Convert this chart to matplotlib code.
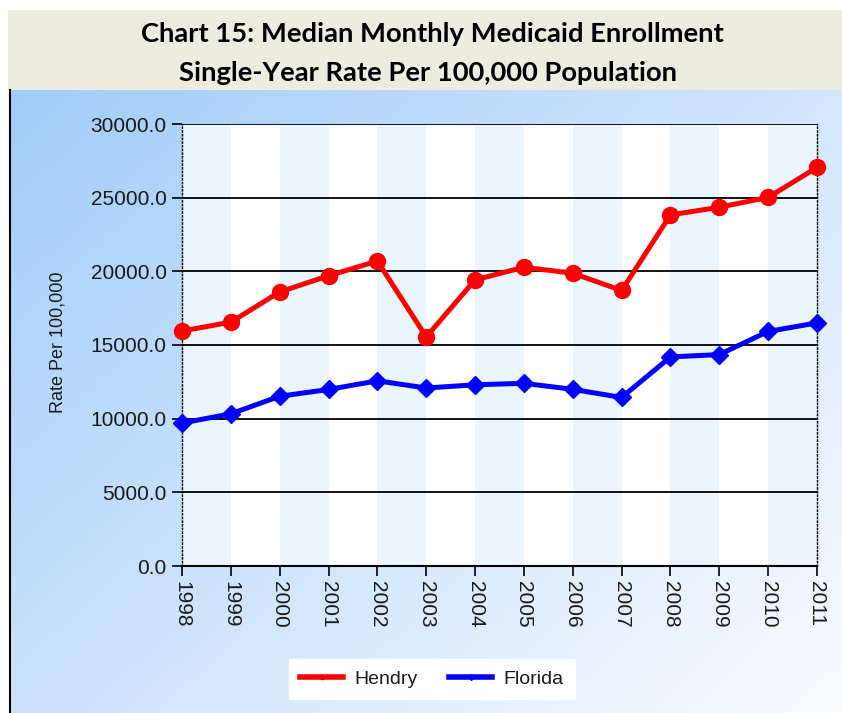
import matplotlib
matplotlib.use("Agg")
import matplotlib.pyplot as plt
from matplotlib.lines import Line2D
import numpy as np

years = [1998, 1999, 2000, 2001, 2002, 2003, 2004, 2005, 2006, 2007, 2008, 2009, 2010, 2011]
hendry = [15950, 16550, 18600, 19700, 20700, 15550, 19420, 20280, 19870, 18700, 23830, 24350, 25020, 27050]
florida = [9700, 10330, 11520, 11980, 12570, 12080, 12300, 12400, 11990, 11440, 14190, 14350, 15920, 16500]
yticks = [0, 5000, 10000, 15000, 20000, 25000, 30000]

W, H = 842, 713
fig = plt.figure(figsize=(W / 100, H / 100), dpi=100)
fig.patch.set_facecolor("white")

# blue gradient background
bg = fig.add_axes([10 / W, 0, 1 - 10 / W, 1 - 90 / H], zorder=-10)
u = np.linspace(0, 1, 200)
v = np.linspace(0, 1, 200)
U, V = np.meshgrid(u, v)
t = np.clip((U * 0.55 + V * 0.45), 0, 1)[..., None]
c0 = np.array([162, 204, 250]) / 255
c1 = np.array([250, 252, 255]) / 255
img = c0 * (1 - t) + c1 * t
bg.imshow(img, aspect="auto", extent=[0, 1, 0, 1], origin="upper")
bg.set_axis_off()
fig.add_artist(Line2D([10 / W, 10 / W], [0, 1 - 90 / H], color="black", lw=1.5))

# title band
tb = fig.add_axes([8 / W, 1 - 90 / H, 1 - 8 / W, 80 / H], zorder=-9)
tb.set_facecolor("#ececdf")
tb.set_xticks([])
tb.set_yticks([])
for s in tb.spines.values():
    s.set_visible(False)

fig.text(432 / W, 1 - 34 / H, "Chart 15: Median Monthly Medicaid Enrollment",
         ha="center", va="center", fontsize=19.7, fontweight="bold", family="Lato")
fig.text(428 / W, 1 - 73 / H, "Single-Year Rate Per 100,000 Population",
         ha="center", va="center", fontsize=19.7, fontweight="bold", family="Lato")

ax = fig.add_axes([182 / W, 1 - 566 / H, 635 / W, 442 / H])
ax.set_facecolor("white")
for i in range(len(years) - 1):
    if i % 2 == 0:
        ax.axvspan(years[i], years[i + 1], color="#ebf5fe", lw=0, zorder=0)

for yv in yticks[1:]:
    ax.axhline(yv, color="black", lw=1.3, zorder=1)

ax.plot(years, hendry, color="red", lw=3.6, marker="o", markersize=11.5, clip_on=False, zorder=3)
ax.plot(years, florida, color="blue", lw=3.6, marker="D", markersize=9, clip_on=False, zorder=3)

ax.set_xlim(years[0], years[-1])
ax.set_ylim(0, 30000)
ax.set_yticks(yticks)
ax.set_yticklabels([f"{v:.1f}" for v in yticks])
ax.set_xticks(years)
ax.set_xticklabels([str(y) for y in years], rotation=270)
ax.tick_params(axis="both", length=7, width=1.2, color="black", labelsize=15,
               labelcolor="#1a1a1a", pad=4)
for lab in ax.get_xticklabels() + ax.get_yticklabels():
    lab.set_family("Liberation Sans")

ax.spines["left"].set_linestyle(":")
ax.spines["right"].set_linestyle(":")
ax.spines["left"].set_linewidth(1)
ax.spines["right"].set_linewidth(1)
ax.spines["top"].set_visible(False)
ax.spines["bottom"].set_linewidth(1.5)

fig.text(58 / W, 1 - 342 / H, "Rate Per 100,000", rotation=90, ha="center", va="center",
         fontsize=13, family="Liberation Sans", color="#1a1a1a")

handles = [Line2D([], [], color="red", lw=4, marker="o", markersize=3),
           Line2D([], [], color="blue", lw=4, marker="D", markersize=3)]
leg = fig.legend(handles, ["Hendry", "Florida"], loc="center",
                 bbox_to_anchor=(432 / W, 1 - 679 / H), ncol=2, frameon=True,
                 fancybox=False, edgecolor="white", facecolor="white", framealpha=1,
                 prop={"family": "Liberation Sans", "size": 14}, handlelength=2.2,
                 columnspacing=1.6, borderpad=0.6, handletextpad=0.6)
for txt in leg.get_texts():
    txt.set_color("#1a1a1a")

fig.savefig("out.png", dpi=100)
